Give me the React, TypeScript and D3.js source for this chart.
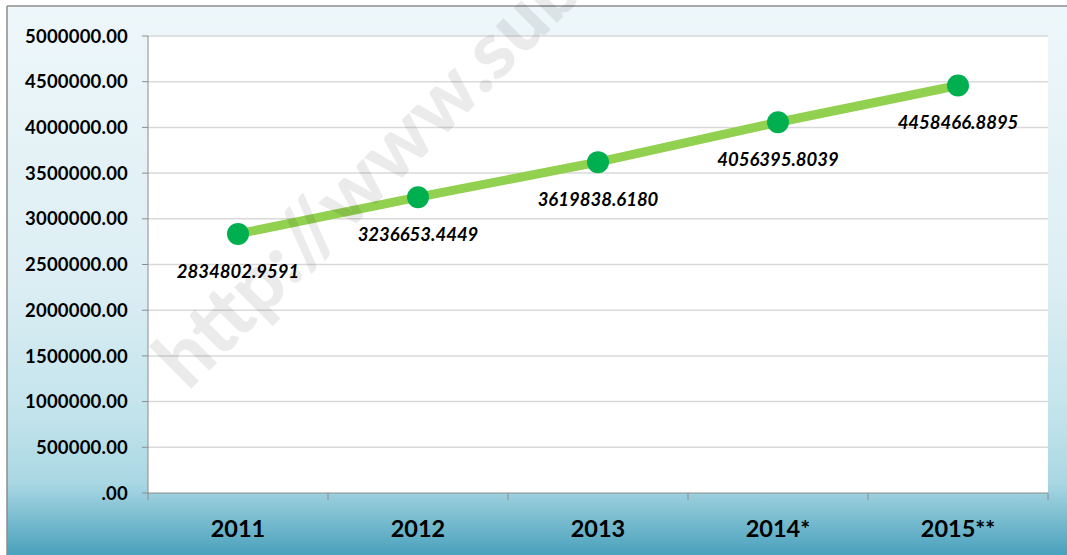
import React from "react";
import * as d3 from "d3";

const categories = ["2011", "2012", "2013", "2014*", "2015**"];
const values = [2834802.9591, 3236653.4449, 3619838.618, 4056395.8039, 4458466.8895];
const valueLabels = ["2834802.9591", "3236653.4449", "3619838.6180", "4056395.8039", "4458466.8895"];
const yTicks = [0, 500000, 1000000, 1500000, 2000000, 2500000, 3000000, 3500000, 4000000, 4500000, 5000000];
const yTickLabels = [".00", "500000.00", "1000000.00", "1500000.00", "2000000.00", "2500000.00", "3000000.00", "3500000.00", "4000000.00", "4500000.00", "5000000.00"];

const W = 1067;
const H = 555;
const plot = { left: 148, right: 1048, top: 36, bottom: 493 };
const FONT = "Lato, 'Open Sans', sans-serif";

export default function App() {
  const x = d3.scaleBand<string>().domain(categories).range([plot.left, plot.right]).padding(0);
  const y = d3.scaleLinear().domain([0, 5000000]).range([plot.bottom, plot.top]);
  const cx = (c: string) => (x(c) as number) + x.bandwidth() / 2;
  const line = d3
    .line<number>()
    .x((_, i) => cx(categories[i]))
    .y((v) => y(v));
  const boundaries = categories.map((c) => x(c) as number).concat([plot.right]);

  return (
    <svg width={W} height={H} style={{ position: "fixed", left: 0, top: 0, display: "block" }}>
      <defs>
        <linearGradient id="bg" x1="0" y1="0" x2="0" y2="1">
          <stop offset="0" stopColor="#eef7fa" />
          <stop offset="0.5" stopColor="#dceef4" />
          <stop offset="0.75" stopColor="#c2e3eb" />
          <stop offset="0.87" stopColor="#a9d7e3" />
          <stop offset="1" stopColor="#49a1bc" />
        </linearGradient>
      </defs>
      <rect x={0} y={0} width={W} height={H} fill="#ffffff" />
      <rect x={7} y={6} width={W - 7} height={H - 6} fill="url(#bg)" />
      <line x1={7} y1={6} x2={W} y2={6} stroke="#8c8c8c" strokeWidth={1.5} />
      <line x1={7} y1={6} x2={7} y2={H} stroke="#8c8c8c" strokeWidth={1.5} />
      <rect x={plot.left} y={plot.top} width={plot.right - plot.left} height={plot.bottom - plot.top} fill="#ffffff" />

      {yTicks.map((t, i) => (
        <g key={t}>
          {t > 0 && (
            <line x1={plot.left} x2={plot.right} y1={y(t)} y2={y(t)} stroke="#d9d9d9" strokeWidth={1.5} />
          )}
          <line x1={plot.left - 6} x2={plot.left} y1={y(t)} y2={y(t)} stroke="#8c8c8c" strokeWidth={1} />
          <text
            x={plot.left - 20}
            y={y(t)}
            dy="0.36em"
            textAnchor="end"
            fontFamily={FONT}
            fontWeight="bold"
            fontSize={18.5}
            letterSpacing={0.2}
            fill="#000"
          >
            {yTickLabels[i]}
          </text>
        </g>
      ))}

      <line x1={plot.left} x2={plot.left} y1={plot.top} y2={plot.bottom} stroke="#8c8c8c" strokeWidth={1} />
      <line x1={plot.left} x2={plot.right} y1={plot.bottom} y2={plot.bottom} stroke="#8c8c8c" strokeWidth={1} />
      {boundaries.map((b, i) => (
        <line key={i} x1={b} x2={b} y1={plot.bottom} y2={plot.bottom + 7} stroke="#8c8c8c" strokeWidth={1} />
      ))}
      {categories.map((c) => (
        <text
          key={c}
          x={cx(c)}
          y={537}
          textAnchor="middle"
          fontFamily={FONT}
          fontWeight="bold"
          fontSize={23.5}
          fill="#000"
        >
          {c}
        </text>
      ))}

      <path d={line(values) || ""} fill="none" stroke="#92d050" strokeWidth={9} strokeLinecap="butt" />
      {values.map((v, i) => (
        <circle key={i} cx={cx(categories[i])} cy={y(v)} r={11} fill="#00b050" />
      ))}
      {values.map((v, i) => (
        <text
          key={"l" + i}
          x={cx(categories[i])}
          y={y(v) + 44}
          textAnchor="middle"
          fontFamily={FONT}
          fontWeight="bold"
          fontStyle="italic"
          fontSize={18.5}
          fill="#000"
        >
          {valueLabels[i]}
        </text>
      ))}

      <text
        transform="translate(188,392) rotate(-45)"
        fontFamily={FONT}
        fontWeight="900"
        fontSize={80}
        fill="#000"
        fillOpacity={0.08}
      >
        http://www.sub
      </text>
    </svg>
  );
}
